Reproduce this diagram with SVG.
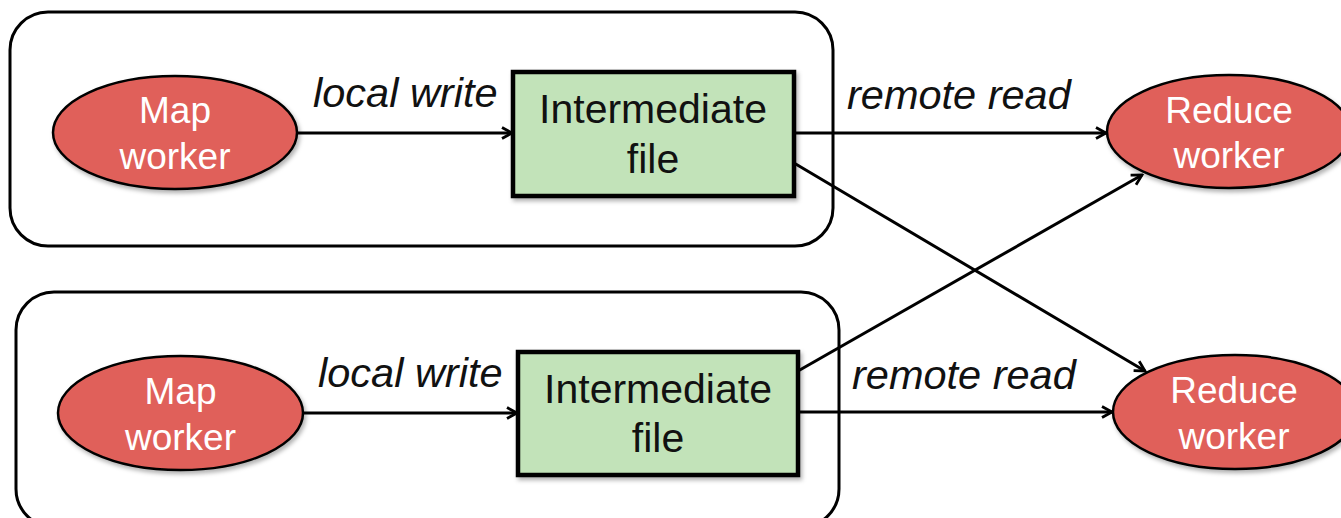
<svg xmlns="http://www.w3.org/2000/svg" width="1341" height="518" viewBox="0 0 1341 518">
<style>
.box{fill:none;stroke:#000;stroke-width:3}
.worker{fill:#E0615A;stroke:#000;stroke-width:2.5}
.file{fill:#C2E3B9;stroke:#000;stroke-width:4.5}
.wt{font-family:"Liberation Sans",Arial,sans-serif;font-size:37px;fill:#fff;text-anchor:middle}
.ft{font-family:"Liberation Sans",Arial,sans-serif;font-size:41px;fill:#111;text-anchor:middle}
.lbl{font-family:"Liberation Sans",Arial,sans-serif;font-size:41.5px;font-style:italic;fill:#111}
.edge{fill:none;stroke:#000;stroke-width:3;marker-end:url(#arr)}
</style>
<defs>
<marker id="arr" viewBox="0 0 14 14" refX="12" refY="7" markerWidth="14" markerHeight="14" markerUnits="userSpaceOnUse" orient="auto">
<path d="M2,1.5 L12,7 L2,12.5" fill="none" stroke="#000" stroke-width="2.8"/>
</marker>
<filter id="sh" x="-10%" y="-10%" width="125%" height="130%">
<feDropShadow dx="2" dy="3" stdDeviation="2" flood-color="#000" flood-opacity="0.3"/>
</filter>
</defs>
<rect width="1341" height="518" fill="#fff"/>
<g id="container-top"><rect class="box" x="10" y="12" width="823" height="234" rx="38"/></g>
<g id="container-bottom"><rect class="box" x="16" y="292" width="823" height="235" rx="38"/></g>
<g id="connectors">
<line class="edge" x1="297" y1="133" x2="512" y2="133"/>
<line class="edge" x1="303" y1="413" x2="517" y2="413"/>
<line class="edge" x1="794" y1="133" x2="1106" y2="133"/>
<line class="edge" x1="794" y1="163" x2="1145" y2="371"/>
<line class="edge" x1="798" y1="371" x2="1142" y2="175"/>
<line class="edge" x1="798" y1="412" x2="1112" y2="412"/>
<text class="lbl" x="313" y="107">local write</text>
<text class="lbl" x="318" y="387">local write</text>
<text class="lbl" x="847" y="109">remote read</text>
<text class="lbl" x="852" y="389">remote read</text>
</g>
<g id="map-top"><ellipse class="worker" filter="url(#sh)" cx="175" cy="132.5" rx="122" ry="56.5"/><text class="wt" x="175" y="123">Map</text><text class="wt" x="175" y="169">worker</text></g>
<g id="map-bottom"><ellipse class="worker" filter="url(#sh)" cx="180.5" cy="413" rx="122.5" ry="57"/><text class="wt" x="180.5" y="403.5">Map</text><text class="wt" x="180.5" y="449.5">worker</text></g>
<g id="file-top"><rect class="file" filter="url(#sh)" x="513" y="72" width="281" height="124"/><text class="ft" x="653" y="122.5">Intermediate</text><text class="ft" x="653" y="173">file</text></g>
<g id="file-bottom"><rect class="file" filter="url(#sh)" x="518" y="352" width="280" height="123"/><text class="ft" x="658" y="403">Intermediate</text><text class="ft" x="658" y="452">file</text></g>
<g id="reduce-top"><ellipse class="worker" filter="url(#sh)" cx="1229" cy="131.5" rx="122" ry="56.5"/><text class="wt" x="1229" y="123">Reduce</text><text class="wt" x="1229" y="168">worker</text></g>
<g id="reduce-bottom"><ellipse class="worker" filter="url(#sh)" cx="1235" cy="412" rx="122" ry="57"/><text class="wt" x="1234" y="403">Reduce</text><text class="wt" x="1234" y="449">worker</text></g>
</svg>
